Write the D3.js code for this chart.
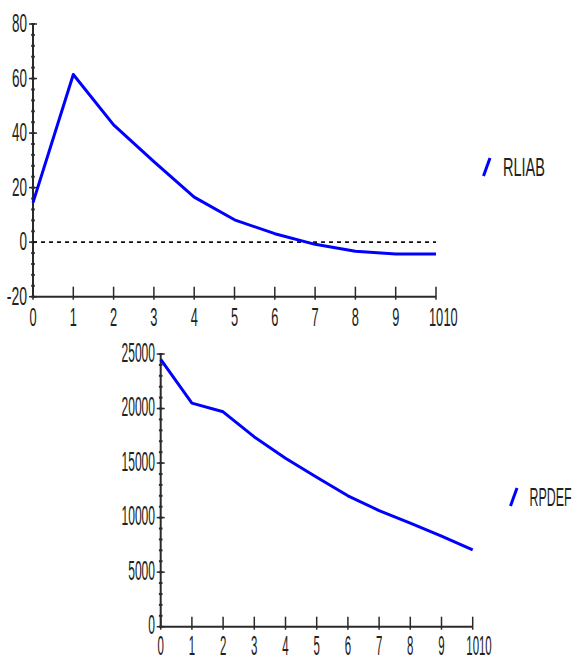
<!DOCTYPE html>
<html><head><meta charset="utf-8">
<script src="https://cdn.jsdelivr.net/npm/d3@7"></script>
<style>body{margin:0;background:#fff}svg{display:block}</style>
</head><body>
<script>
// ---- data ----
const years = [0,1,2,3,4,5,6,7,8,9,10];
const rliab = [14.5,61.5,43,29.5,16.5,8.2,3.1,-0.8,-3.3,-4.3,-4.3];
const rpdef = [24500,20500,19700,17400,15450,13700,12000,10650,9500,8300,7050];
const topYTicks = [-20,0,20,40,60,80];
const botYTicks = [0,5000,10000,15000,20000,25000];
const xTicks = [0,1,2,3,4,5,6,7,8,9,10];
const seriesNames = ["RLIAB","RPDEF"];

const svg = d3.select("body").append("svg").attr("width",573).attr("height",657);
const FONT = "Liberation Sans, Arial, sans-serif";
const AX = "#2a2a2a";

function label(g, str, x, y, size, width, anchor){
  let x0 = anchor==="end" ? x-width : anchor==="middle" ? x-width/2 : x;
  g.append("text").attr("x",x0).attr("y",y).attr("font-family",FONT)
   .attr("font-size",size).attr("fill","#222")
   .attr("textLength",width).attr("lengthAdjust","spacingAndGlyphs").text(str);
}
function strW(s, dw){ let w=0; for(const c of s) w += (c==="-"? dw*0.7 : dw); return w; }

function chart(cfg){
  const g = svg.append("g");
  const x = d3.scaleLinear().domain([0,10]).range(cfg.xr);
  const y = d3.scaleLinear().domain(cfg.yd).range(cfg.yr);
  const minors = d3.range(cfg.yd[0], cfg.yd[1]+cfg.minor/2, cfg.minor);
  g.selectAll(".mn").data(minors).join("line")
   .attr("x1",x(0)-1.8).attr("x2",x(0)+1.8)
   .attr("y1",d=>y(d)).attr("y2",d=>y(d)).attr("stroke",AX).attr("stroke-width",2);
  g.selectAll(".mj").data(cfg.yTicks).join("line")
   .attr("x1",x(0)-4).attr("x2",x(0)+4)
   .attr("y1",d=>y(d)).attr("y2",d=>y(d)).attr("stroke",AX).attr("stroke-width",1.5);
  g.append("line").attr("x1",x(0)).attr("x2",x(0)).attr("y1",y(cfg.yd[1])).attr("y2",y(cfg.yd[0]))
   .attr("stroke",AX).attr("stroke-width",2);
  g.append("line").attr("x1",x(0)).attr("x2",x(10)).attr("y1",y(cfg.yd[0])).attr("y2",y(cfg.yd[0]))
   .attr("stroke",AX).attr("stroke-width",2);
  g.selectAll(".xt").data(xTicks).join("line")
   .attr("x1",d=>x(d)).attr("x2",d=>x(d))
   .attr("y1",y(cfg.yd[0])-10).attr("y2",y(cfg.yd[0])+3).attr("stroke",AX).attr("stroke-width",1.5);
  cfg.yTicks.forEach(t=>{
    const s = String(t);
    label(g, s, cfg.yLabRight, y(t)+cfg.yLabDy, cfg.fs, strW(s,cfg.dw), "end");
  });
  xTicks.forEach(t=>{
    const s = String(t);
    label(g, s, x(t), cfg.xLabBase, cfg.fs, strW(s,cfg.dw*0.95), "middle");
  });
  label(g, "10", cfg.extraX, cfg.xLabBase, cfg.fs, strW("10",cfg.dw*0.95), "start");
  if(cfg.zero){
    g.append("line").attr("x1",x(0)).attr("x2",x(10)).attr("y1",y(0)).attr("y2",y(0))
     .attr("stroke","#111").attr("stroke-width",1.6).attr("stroke-dasharray","4,4");
  }
  const line = d3.line().x((d,i)=>x(years[i])).y(d=>y(d));
  g.append("path").datum(cfg.data).attr("d",line).attr("fill","none")
   .attr("stroke","#0000ff").attr("stroke-width",3).attr("stroke-linejoin","round");
  g.append("line").attr("x1",cfg.leg[0]).attr("y1",cfg.leg[1]).attr("x2",cfg.leg[0]+6.5).attr("y2",cfg.leg[1]-18)
   .attr("stroke","#0000ff").attr("stroke-width",3);
  label(g, cfg.name, cfg.legText[0], cfg.legText[1], cfg.legFs, 42, "start");
}

chart({xr:[33,436], yd:[-20,80], yr:[296.7,24], minor:4, yTicks:topYTicks,
  yLabRight:27, yLabDy:8, fs:25, dw:7.5, xLabBase:326, extraX:443.5, zero:true,
  data:rliab, leg:[483.5,176], name:seriesNames[0], legText:[503,176], legFs:25});
chart({xr:[160.7,472.7], yd:[0,25000], yr:[626.7,354], minor:1000, yTicks:botYTicks,
  yLabRight:155, yLabDy:7.5, fs:27, dw:6.7, xLabBase:655, extraX:479, zero:false,
  data:rpdef, leg:[510.5,506], name:seriesNames[1], legText:[529.5,506], legFs:26});
</script>
</body></html>
